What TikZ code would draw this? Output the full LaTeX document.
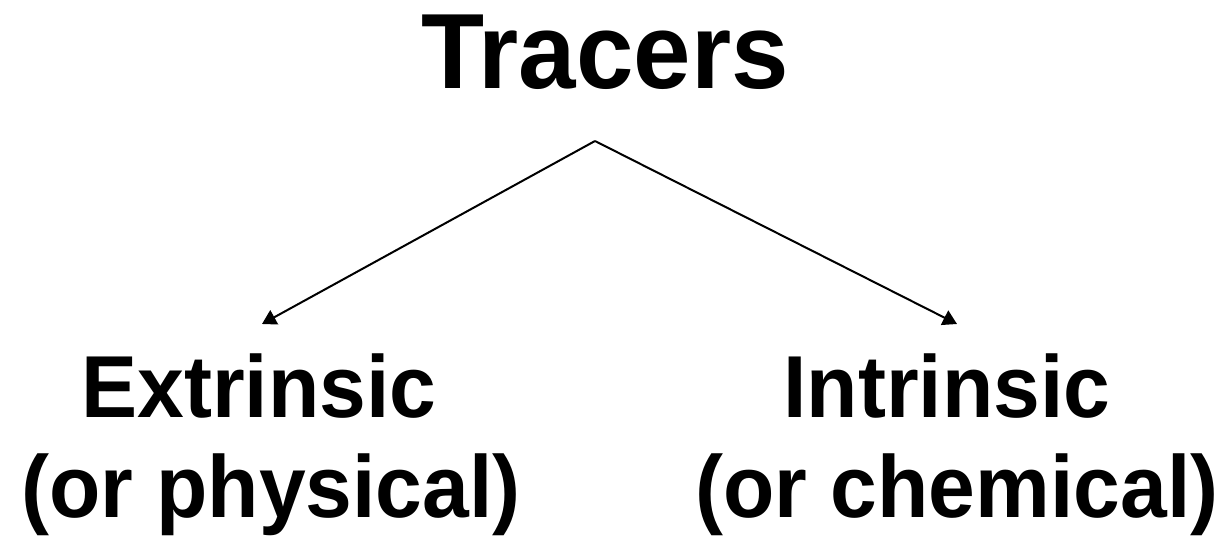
\documentclass[tikz,border=0pt]{standalone}
\usepackage{fontspec}
\setmainfont{Liberation Sans}
\newfontfamily\titlefont[FakeStretch=0.965]{Liberation Sans}
\newfontfamily\labelfont[FakeStretch=0.955]{Liberation Sans}
\usetikzlibrary{arrows.meta}
\begin{document}
\begin{tikzpicture}[x=1pt,y=-1pt,
  title/.style={font=\titlefont\bfseries\fontsize{107}{112}\selectfont, anchor=base, inner sep=0pt},
  label/.style={font=\labelfont\bfseries\fontsize{88}{92}\selectfont, anchor=base, inner sep=0pt},
  conn/.style={line width=2pt, -{Triangle[length=14pt,width=16pt]}}]
\useasboundingbox (0,0) rectangle (1226,537);
\node[title] (tracers) at (605,89) {Tracers};
\node[label] (ext) at (259,417) {Extrinsic};
\node[label] (extsub) at (271,517) {(or physical)};
\node[label] (intr) at (947,417) {Intrinsic};
\node[label] (intrsub) at (957,517) {(or chemical)};
\coordinate (apex) at (595,141);
\coordinate (ltip) at (262,324);
\coordinate (rtip) at (957,324);
\draw[conn] (apex) -- (ltip);
\draw[conn] (apex) -- (rtip);
\end{tikzpicture}
\end{document}
